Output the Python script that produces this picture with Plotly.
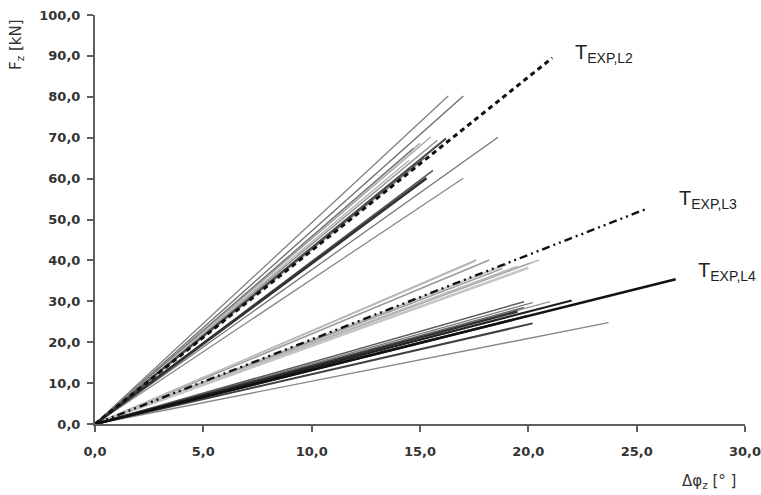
import plotly.graph_objects as go

# ---- data: end points of each test curve (curves start at the origin) ----
# Group L2 (steepest fan)
l2_phi = [16.3, 17.0, 18.6, 17.0, 15.5, 15.8, 15.0, 14.7, 15.2, 14.8, 15.6, 14.5, 16.2, 15.3]
l2_fz = [80.2, 80.2, 70.1, 60.1, 70.2, 69.4, 68.6, 67.4, 65.0, 63.0, 62.0, 64.5, 69.8, 60.1]
# Group L3 (middle fan)
l3_phi = [17.6, 18.2, 17.5, 20.5, 20.1, 19.0, 18.8, 19.5, 20.0]
l3_fz = [40.1, 40.1, 39.7, 40.1, 39.4, 39.0, 38.0, 38.5, 38.2]
# Group L4 (lowest fan)
l4_phi = [21.0, 23.7, 20.2, 19.8, 19.8, 20.0, 19.3, 19.5, 20.2, 22.0]
l4_fz = [29.9, 24.8, 29.7, 29.9, 28.5, 26.5, 25.5, 27.5, 24.6, 30.2]

# Experimental reference curves
texp_names = ["T<sub>EXP,L2</sub>", "T<sub>EXP,L3</sub>", "T<sub>EXP,L4</sub>"]
texp_phi = [21.1, 25.4, 26.8]
texp_fz = [89.5, 52.5, 35.4]

x_ticks = [0, 5, 10, 15, 20, 25, 30]
y_ticks = [0, 10, 20, 30, 40, 50, 60, 70, 80, 90, 100]

# ---- styles ----
l2_col = ["#808080", "#6a6a6a", "#777777", "#888888", "#9a9a9a", "#8a8a8a", "#aaaaaa",
          "#777777", "#666666", "#999999", "#555555", "#b5b5b5", "#4a4a4a", "#333333"]
l2_w = [1.3, 1.3, 1.3, 1.3, 1.3, 1.3, 1.5, 1.3, 1.5, 1.3, 1.5, 1.5, 2.2, 2.8]
l3_col = ["#a8a8a8", "#9a9a9a", "#bdbdbd", "#bbbbbb", "#a5a5a5", "#c8c8c8", "#999999",
          "#b8b8b8", "#c4c4c4"]
l3_w = [1.5, 1.5, 1.5, 1.5, 1.5, 2.0, 1.5, 2.0, 2.5]
l4_col = ["#9a9a9a", "#888888", "#777777", "#5a5a5a", "#666666", "#444444", "#555555",
          "#333333", "#404040", "#222222"]
l4_w = [1.3, 1.4, 1.3, 1.5, 1.5, 2.0, 2.5, 2.5, 2.0, 2.2]
texp_dash = ["5px,4px", "8px,4px,2px,4px,2px,4px", "solid"]
texp_w = [3.0, 2.4, 2.6]

fig = go.Figure()

def add_group(phis, fzs, cols, ws):
    for p, f, c, w in zip(phis, fzs, cols, ws):
        fig.add_trace(go.Scatter(x=[0, p], y=[0, f], mode="lines",
                                 line=dict(color=c, width=w),
                                 showlegend=False, hoverinfo="skip"))

add_group(l3_phi, l3_fz, l3_col, l3_w)
add_group(l4_phi, l4_fz, l4_col, l4_w)
add_group(l2_phi, l2_fz, l2_col, l2_w)

for name, p, f, d, w in zip(texp_names, texp_phi, texp_fz, texp_dash, texp_w):
    fig.add_trace(go.Scatter(x=[0, p], y=[0, f], mode="lines", name=name,
                             line=dict(color="#111111", width=w, dash=d),
                             showlegend=False, hoverinfo="skip"))

# labels for experimental curves
lab_x = [22.05, 26.85, 27.75]
lab_y = [90.5, 55.0, 37.4]
for name, lx, ly in zip(texp_names, lab_x, lab_y):
    fig.add_annotation(x=lx, y=ly, text=name, showarrow=False, xanchor="left",
                       yanchor="middle",
                       font=dict(family="Liberation Sans", size=20, color="#222222"))

tick_font = dict(family="DejaVu Sans", size=13, color="#333333", weight="bold")

fig.update_xaxes(range=[0, 30], tickvals=x_ticks, tickformat=".1f",
                 showline=True, linecolor="#5f5f5f", linewidth=2,
                 ticks="outside", ticklen=6, tickwidth=2, tickcolor="#5f5f5f",
                 showgrid=False, zeroline=False, tickfont=tick_font,
                 ticklabelstandoff=8, ticklabeloverflow="allow", automargin=False)
fig.update_yaxes(range=[0, 100], tickvals=y_ticks, tickformat=".1f",
                 showline=True, linecolor="#5f5f5f", linewidth=2,
                 ticks="outside", ticklen=6, tickwidth=2, tickcolor="#5f5f5f",
                 showgrid=False, zeroline=False, tickfont=tick_font,
                 ticklabelstandoff=4, ticklabeloverflow="allow", automargin=False)

fig.add_annotation(xref="paper", yref="paper", x=(16 - 95) / 650, y=(424 - 45) / 409,
                   text="F<sub>z</sub> [kN]", showarrow=False, textangle=-90,
                   xanchor="center", yanchor="middle",
                   font=dict(family="DejaVu Sans", size=15, color="#333333"))
fig.add_annotation(xref="paper", yref="paper", x=(709 - 95) / 650, y=(424 - 482) / 409,
                   text="Δφ<sub>z</sub> [° ]", showarrow=False,
                   xanchor="center", yanchor="middle",
                   font=dict(family="DejaVu Sans", size=15, color="#333333"))

fig.update_layout(width=761, height=495, margin=dict(l=95, r=16, t=15, b=71),
                  paper_bgcolor="white", plot_bgcolor="white",
                  separators=",.", showlegend=False)

fig.write_html("out.html", config={"displayModeBar": False},
               post_script="document.body.style.margin='0';document.body.style.padding='0';")
